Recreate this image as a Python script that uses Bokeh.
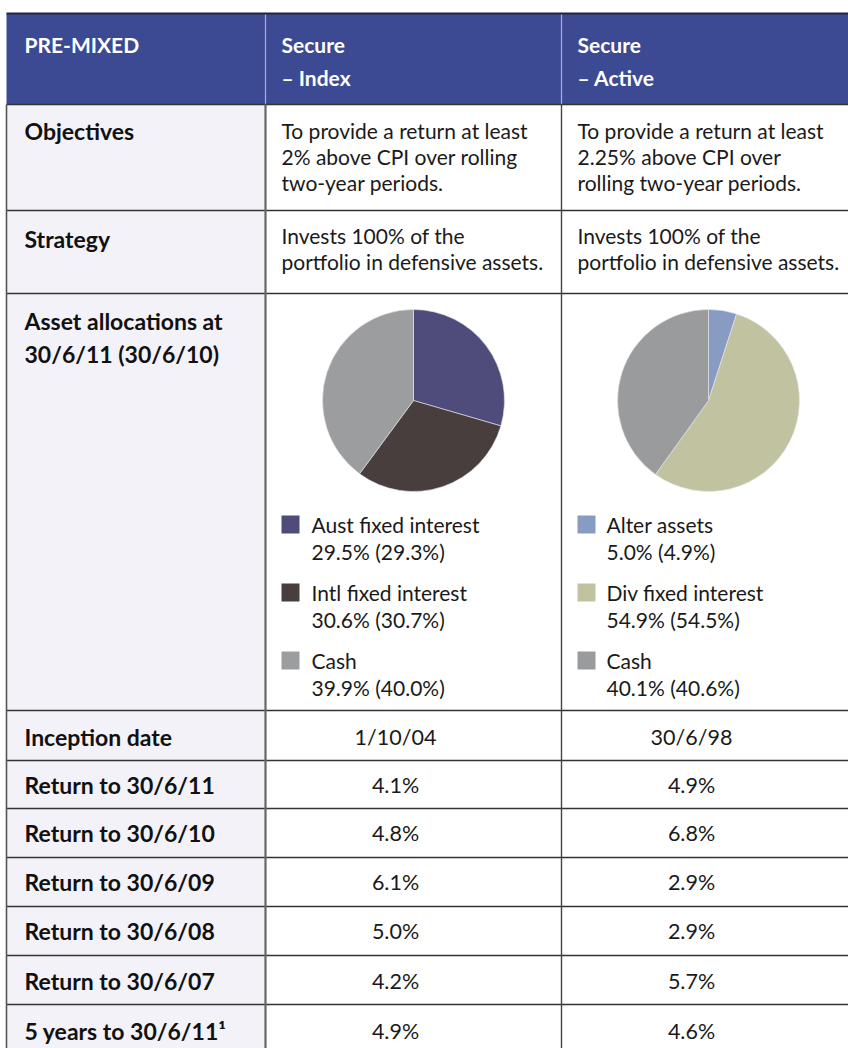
import math
from bokeh.plotting import figure
from bokeh.models import Range1d, ColumnDataSource
from bokeh.core.properties import value
from bokeh.embed import file_html
from bokeh.resources import INLINE

# ---------------- data ----------------
col_headers = [["PRE-MIXED"], ["Secure", "– Index"], ["Secure", "– Active"]]
row_labels = [
    ["Objectives"],
    ["Strategy"],
    ["Asset allocations at", "30/6/11 (30/6/10)"],
    ["Inception date"],
    ["Return to 30/6/11"],
    ["Return to 30/6/10"],
    ["Return to 30/6/09"],
    ["Return to 30/6/08"],
    ["Return to 30/6/07"],
    ["5 years to 30/6/11¹"],
]
objectives = [
    ["To provide a return at least", "2% above CPI over rolling", "two-year periods."],
    ["To provide a return at least", "2.25% above CPI over", "rolling two-year periods."],
]
strategy = [
    ["Invests 100% of the", "portfolio in defensive assets."],
    ["Invests 100% of the", "portfolio in defensive assets."],
]
inception = ["1/10/04", "30/6/98"]
returns_index = ["4.1%", "4.8%", "6.1%", "5.0%", "4.2%", "4.9%"]
returns_active = ["4.9%", "6.8%", "2.9%", "2.9%", "5.7%", "4.6%"]

index_assets = ["Aust fixed interest", "Intl fixed interest", "Cash"]
index_2011 = [29.5, 30.6, 39.9]
index_2010 = [29.3, 30.7, 40.0]
index_colors = ["#4f4c7c", "#483e3d", "#9c9d9f"]

active_assets = ["Alter assets", "Div fixed interest", "Cash"]
active_2011 = [5.0, 54.9, 40.1]
active_2010 = [4.9, 54.5, 40.6]
active_colors = ["#879bc3", "#c0c2a0", "#9a9b9d"]

# ---------------- layout ----------------
HEADER_BG = "#3c4a94"
LEFT_BG = "#f3f2f9"
LINE = "#333333"
FONT = value("Lato")
W, H = 848, 1048

X0, X1, X2, X3 = 6, 265, 561, 848
row_edges = [104, 210, 293, 710, 760, 808, 857, 906, 955, 1004, 1060]
HEADER_TOP = 13

p = figure(width=W, height=H, x_range=Range1d(0, W), y_range=Range1d(H, 0),
           output_backend="svg", toolbar_location=None, min_border=0,
           x_axis_location=None, y_axis_location=None)
p.grid.visible = False
p.outline_line_color = None
p.background_fill_color = "white"
p.border_fill_color = "white"

# backgrounds
p.quad(left=[X0], right=[X3], top=[HEADER_TOP], bottom=[row_edges[0]],
       fill_color=HEADER_BG, line_color=None)
p.quad(left=[X0], right=[X1], top=[row_edges[0]], bottom=[row_edges[-1]],
       fill_color=LEFT_BG, line_color=None)

# header dividers (light)
p.segment(x0=[X1, X2], y0=[HEADER_TOP, HEADER_TOP], x1=[X1, X2], y1=[row_edges[0], row_edges[0]],
          line_color="#aab0d8", line_width=1.2)
# top line
p.segment(x0=[X0], y0=[HEADER_TOP], x1=[X3], y1=[HEADER_TOP], line_color="#222244", line_width=2)
# horizontal row lines
p.segment(x0=[X0] * (len(row_edges) - 1), y0=row_edges[:-1], x1=[X3] * (len(row_edges) - 1),
          y1=row_edges[:-1], line_color=LINE, line_width=1.6)
# vertical lines body
p.segment(x0=[X0, X1, X2], y0=[row_edges[0]] * 3, x1=[X0, X1, X2], y1=[row_edges[-1]] * 3,
          line_color=["#555555", "#666666", "#444444"], line_width=[1.6, 2.2, 1.4])


def txt(x, y, s, size="21px", style="normal", color="#1a1a1a", align="left"):
    p.text(x=[x], y=[y], text=[s], text_font=FONT, text_font_size=size,
           text_font_style=style, text_color=color, text_align=align,
           text_baseline="middle")


# header text
header_x = [24, 281, 577]
for hx, lines in zip(header_x, col_headers):
    for i, line in enumerate(lines):
        txt(hx, 44 + 33 * i, line, size="21px", style="bold", color="white")

# row labels
label_y = [130, 238, 320, 736, 784, 832, 881, 930, 980, 1030]
for ly, lines in zip(label_y, row_labels):
    for i, line in enumerate(lines):
        txt(24, ly + 33 * i, line, size="23px", style="bold", color="#111111")

# objectives / strategy
body_x = [281, 577]
for bx, lines in zip(body_x, objectives):
    for i, line in enumerate(lines):
        txt(bx, 130 + 26 * i, line)
for bx, lines in zip(body_x, strategy):
    for i, line in enumerate(lines):
        txt(bx, 235 + 26 * i, line)

# inception and returns (centered)
cx = [395, 691]
for c, v in zip(cx, inception):
    txt(c, 736, v, size="21.5px", align="center")
for i, (a, b) in enumerate(zip(returns_index, returns_active)):
    ry = label_y[4 + i]
    txt(cx[0], ry, a, size="21.5px", align="center")
    txt(cx[1], ry, b, size="21.5px", align="center")


# pies
def pie(xc, yc, vals, colors):
    total = sum(vals)
    starts, ends = [], []
    cum = 0.0
    for v in vals:
        starts.append(math.pi / 2 - 2 * math.pi * cum / total)
        cum += v
        ends.append(math.pi / 2 - 2 * math.pi * cum / total)
    src = ColumnDataSource(dict(x=[xc] * len(vals), y=[yc] * len(vals),
                                s=starts, e=ends, c=colors))
    p.wedge(x="x", y="y", radius=91, radius_units="screen", start_angle="s", end_angle="e",
            direction="clock", fill_color="c", line_color="#e8e8ee", line_width=0.6, source=src)


pie(413, 400, index_2011, index_colors)
pie(708, 400, active_2011, active_colors)


# legends
def legend(sx, tx, names, v11, v10, colors):
    for i, (n, a, b, c) in enumerate(zip(names, v11, v10, colors)):
        y = 524 + 68 * i
        p.rect(x=[sx], y=[y], width=18, height=18, fill_color=c, line_color=None)
        txt(tx, y, n)
        txt(tx, y + 27, f"{a:.1f}% ({b:.1f}%)")


legend(290, 311, index_assets, index_2011, index_2010, index_colors)
legend(586, 606, active_assets, active_2011, active_2010, active_colors)

open("out.html", "w").write(file_html(p, INLINE))
